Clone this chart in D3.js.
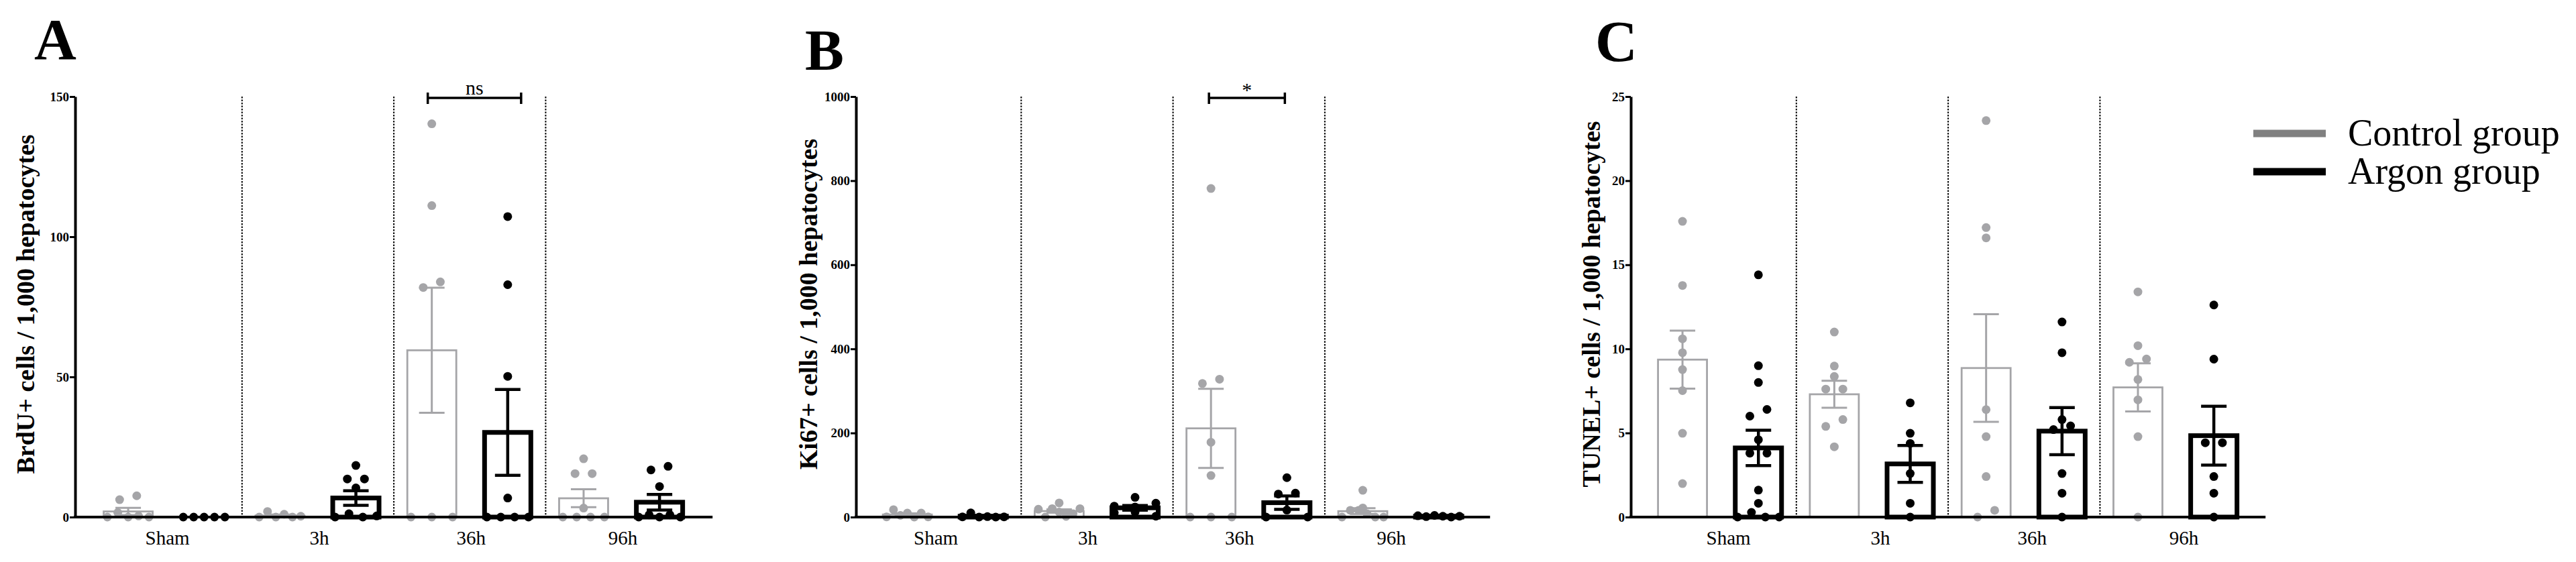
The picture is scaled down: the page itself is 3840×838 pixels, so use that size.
<!DOCTYPE html>
<html>
<head>
<meta charset="utf-8">
<script src="https://cdn.jsdelivr.net/npm/d3@7"></script>
<style>
  html, body { margin: 0; padding: 0; background: #fff; }
  svg { display: block; }
  text { font-family: 'Liberation Serif', 'Times New Roman', serif; }
</style>
</head>
<body>
<svg id="chart" width="3840" height="838"></svg>
<script>
// ---------------- DATA ----------------
const groups = ["Sham", "3h", "36h", "96h"];
const seriesNames = ["Control group", "Argon group"];

// Panel A: BrdU+
const brduTicks = [0, 50, 100, 150];
const brduControlMean = [2.0, 0.55, 59.5, 6.7];
const brduControlSem  = [1.3, 0.35, 22.3, 3.2];
const brduArgonMean   = [0, 6.8, 30.2, 5.3];
const brduArgonSem    = [0, 2.6, 15.3, 2.8];
const brduControlPoints = [
  [0, 1.6, 0, 0.4, 0, 6.2, 7.6],
  [0, 2.0, 0, 1.0, 0, 0.3],
  [0, 0, 0, 81.9, 83.9, 111.1, 140.3],
  [0, 0, 0, 0, 3.2, 15.5, 15.5, 20.8]
];
const brduArgonPoints = [
  [0, 0, 0, 0, 0],
  [0, 1.2, 0, 0.4, 10.4, 13.6, 13.6, 18.4],
  [0, 0, 0, 0, 6.8, 50.2, 82.9, 107.2],
  [0, 0.8, 0, 0.8, 0, 10.9, 16.8, 18.1]
];

// Panel B: Ki67+
const ki67Ticks = [0, 200, 400, 600, 800, 1000];
const ki67ControlMean = [6.0, 14.2, 211, 14];
const ki67ControlSem  = [2.7, 4.0, 94, 7];
const ki67ArgonMean   = [2.0, 22, 34.2, 2.0];
const ki67ArgonSem    = [1.6, 5.5, 16, 0.6];
const ki67ControlPoints = [
  [0.5, 17.6, 4, 9.6, 0, 9.6, 0.5],
  [18.6, 0, 20, 12, 33.6, 1.6, 8, 20],
  [0, 0, 0, 98.8, 178, 317.6, 327.9, 781.3],
  [0, 16, 21.7, 16, 8, 0, 0, 63.6]
];
const ki67ArgonPoints = [
  [0.5, 10, 0, 1, 0, 0.5],
  [47, 26, 10, 24, 33, 12, 2],
  [0, 16.6, 0, 54.8, 57, 93.7],
  [3, 1, 4, 2, 0, 2]
];

// Panel C: TUNEL+
const tunelTicks = [0, 5, 10, 15, 20, 25];
const tunelControlMean = [9.36, 7.3, 8.86, 7.71];
const tunelControlSem  = [1.72, 0.8, 3.2, 1.43];
const tunelArgonMean   = [4.11, 3.16, 5.11, 4.84];
const tunelArgonSem    = [1.05, 1.1, 1.4, 1.75];
const tunelControlPoints = [
  [1.99, 4.98, 7.52, 8.77, 9.77, 10.6, 13.77, 17.58],
  [4.18, 5.39, 5.8, 7.61, 7.61, 8.36, 8.98, 11.0],
  [0, 0.4, 2.41, 4.78, 6.39, 16.6, 17.21, 23.57],
  [0, 4.78, 6.97, 8.18, 9.2, 9.4, 10.19, 13.39]
];
const tunelArgonPoints = [
  [0, 0.28, 0, 0, 0.82, 1.6, 3.8, 3.8, 4.6, 6.0, 6.4, 8.0, 9.0, 14.4],
  [0, 0.82, 2.59, 4.38, 4.98, 6.79],
  [0, 1.42, 2.59, 5.2, 5.42, 5.8, 9.77, 11.6],
  [0, 1.42, 2.41, 4.42, 4.42, 9.39, 12.61]
];

// ---------------- LAYOUT / STYLE ----------------
const svg = d3.select("#chart");
svg.append("rect").attr("width", 3840).attr("height", 838).attr("fill", "#fff");

const GREY = "#a5a5a8";
const BASE_Y = 771, TOP_Y = 144;
const GROUP_W = 226.3;
const R = 6.5;

const panels = [
  { letter: "A", lx: 51, ly: 88, axisX: 112, x0: 134.5, yMax: 150, ticks: brduTicks,
    title: "BrdU+ cells / 1,000 hepatocytes", titleX: 51, labelDx: 2,
    cMean: brduControlMean, cSem: brduControlSem, aMean: brduArgonMean, aSem: brduArgonSem,
    cPts: brduControlPoints, aPts: brduArgonPoints,
    sig: { group: "36h", text: "ns", padL: 6, padR: 20 } },
  { letter: "B", lx: 1200, ly: 104, axisX: 1276, x0: 1296, yMax: 1000, ticks: ki67Ticks,
    title: "Ki67+ cells / 1,000 hepatocytes", titleX: 1218, labelDx: -14,
    cMean: ki67ControlMean, cSem: ki67ControlSem, aMean: ki67ArgonMean, aSem: ki67ArgonSem,
    cPts: ki67ControlPoints, aPts: ki67ArgonPoints,
    sig: { group: "36h", text: "*", padL: 3, padR: -3 } },
  { letter: "C", lx: 2378, ly: 91, axisX: 2431, x0: 2451.5, yMax: 25, ticks: tunelTicks,
    title: "TUNEL+ cells / 1,000 hepatocytes", titleX: 2385, labelDx: 12,
    cMean: tunelControlMean, cSem: tunelControlSem, aMean: tunelArgonMean, aSem: tunelArgonSem,
    cPts: tunelControlPoints, aPts: tunelArgonPoints,
    sig: null }
];

function swarm(values, y, thresh) {
  const items = values.map((v, i) => ({ v, i, y: y(v), dx: 0 }));
  const sorted = items.slice().sort((a, b) => (b.y - a.y) || (a.i - b.i));
  const rows = [];
  let cur = null;
  for (const it of sorted) {
    if (cur && cur.base - it.y <= thresh) cur.items.push(it);
    else { cur = { base: it.y, items: [it] }; rows.push(cur); }
  }
  rows.forEach(r => {
    r.items.sort((a, b) => a.i - b.i);
    const n = r.items.length;
    const sp = n === 1 ? 0 : (n === 2 ? 25.5 : 62 / (n - 1));
    r.items.forEach((it, k) => { it.dx = (k - (n - 1) / 2) * sp; });
  });
  return items;
}

panels.forEach(p => {
  const g = svg.append("g");
  const y = d3.scaleLinear().domain([0, p.yMax]).range([BASE_Y, TOP_Y]);
  const xg = d3.scaleBand().domain(groups).range([p.x0, p.x0 + 4 * GROUP_W]).padding(0);
  const xs = d3.scaleBand().domain(seriesNames).range([0, GROUP_W]).padding(0);
  const axisEnd = p.x0 + 4 * GROUP_W + (p.x0 - p.axisX);

  // panel letter
  g.append("text").attr("x", p.lx).attr("y", p.ly).attr("font-size", 87)
    .attr("font-weight", "bold").attr("fill", "#000").text(p.letter);

  // dotted separators
  g.selectAll("line.sep").data(groups.slice(1)).join("line")
    .attr("x1", d => xg(d)).attr("x2", d => xg(d))
    .attr("y1", TOP_Y).attr("y2", BASE_Y)
    .attr("stroke", "#000").attr("stroke-width", 2).attr("stroke-dasharray", "2.5,2");

  const series = [
    { name: seriesNames[0], mean: p.cMean, sem: p.cSem, pts: p.cPts, color: GREY, bw: 2.8, ew: 3, barW: 73 },
    { name: seriesNames[1], mean: p.aMean, sem: p.aSem, pts: p.aPts, color: "#000", bw: 7, ew: 4.5, barW: 69 }
  ];

  series.forEach(s => {
    const cx = gname => xg(gname) + xs(s.name) + xs.bandwidth() / 2;
    // bars
    g.selectAll(null).data(groups).join("rect")
      .attr("x", d => cx(d) - s.barW / 2)
      .attr("width", s.barW)
      .attr("y", (d, i) => y(s.mean[i]))
      .attr("height", (d, i) => BASE_Y - y(s.mean[i]))
      .attr("fill", "none").attr("stroke", s.color).attr("stroke-width", s.bw);
    // points
    groups.forEach((gname, gi) => {
      const items = swarm(s.pts[gi], y, 13);
      g.selectAll(null).data(items).join("circle")
        .attr("cx", d => cx(gname) + d.dx).attr("cy", d => d.y)
        .attr("r", R).attr("fill", s.color);
    });
    // error bars (mean ± SEM)
    groups.forEach((gname, gi) => {
      const m = s.mean[gi], e = s.sem[gi];
      if (e <= 0) return;
      const x = cx(gname), cap = 19;
      const eg = g.append("g").attr("stroke", s.color).attr("stroke-width", s.ew);
      eg.append("line").attr("x1", x).attr("x2", x).attr("y1", y(m - e)).attr("y2", y(m + e));
      eg.append("line").attr("x1", x - cap).attr("x2", x + cap).attr("y1", y(m + e)).attr("y2", y(m + e));
      eg.append("line").attr("x1", x - cap).attr("x2", x + cap).attr("y1", y(m - e)).attr("y2", y(m - e));
    });
  });

  // y axis
  const yAxis = d3.axisLeft(y).tickValues(p.ticks).tickFormat(d3.format("d"))
    .tickSize(8).tickSizeOuter(0).tickPadding(1);
  const ya = g.append("g").attr("transform", `translate(${p.axisX},0)`).call(yAxis);
  ya.select(".domain").attr("stroke", "#000").attr("stroke-width", 4);
  ya.selectAll(".tick line").attr("stroke", "#000").attr("stroke-width", 3);
  ya.selectAll(".tick text").attr("font-size", 19).attr("font-weight", "bold")
    .attr("font-family", "'Liberation Serif', 'Times New Roman', serif").attr("fill", "#000");

  // x axis line
  g.append("line").attr("x1", p.axisX - 2).attr("x2", axisEnd)
    .attr("y1", BASE_Y).attr("y2", BASE_Y).attr("stroke", "#000").attr("stroke-width", 4);

  // category labels
  g.selectAll(null).data(groups).join("text")
    .attr("x", d => xg(d) + GROUP_W / 2 + p.labelDx).attr("y", 812)
    .attr("text-anchor", "middle").attr("font-size", 29).attr("fill", "#000").text(d => d);

  // y title
  g.append("text")
    .attr("transform", `translate(${p.titleX},${(TOP_Y + BASE_Y) / 2 - 4}) rotate(-90)`)
    .attr("text-anchor", "middle").attr("font-size", 38).attr("font-weight", "bold")
    .attr("fill", "#000").text(p.title);

  // significance bracket
  if (p.sig) {
    const xc = xg(p.sig.group) + xs(seriesNames[0]) + xs.bandwidth() / 2 - p.sig.padL;
    const xa = xg(p.sig.group) + xs(seriesNames[1]) + xs.bandwidth() / 2 + p.sig.padR;
    const by = 146;
    const bg = g.append("g").attr("stroke", "#000").attr("stroke-width", 3.5);
    bg.append("line").attr("x1", xc).attr("x2", xa).attr("y1", by).attr("y2", by);
    bg.append("line").attr("x1", xc).attr("x2", xc).attr("y1", by - 8).attr("y2", by + 9);
    bg.append("line").attr("x1", xa).attr("x2", xa).attr("y1", by - 8).attr("y2", by + 9);
    g.append("text").attr("x", (xc + xa) / 2).attr("y", p.sig.text === "*" ? 144 : 141)
      .attr("text-anchor", "middle").attr("font-size", 30).attr("fill", "#000").text(p.sig.text);
  }
});

// legend
const legendColors = ["#808080", "#000"];
const lg = svg.append("g");
lg.selectAll(null).data(seriesNames).join("line")
  .attr("x1", 3359).attr("x2", 3467)
  .attr("y1", (d, i) => 199 + i * 57).attr("y2", (d, i) => 199 + i * 57)
  .attr("stroke", (d, i) => legendColors[i]).attr("stroke-width", 11);
lg.selectAll(null).data(seriesNames).join("text")
  .attr("x", 3500).attr("y", (d, i) => 217 + i * 57)
  .attr("font-size", 56).attr("fill", "#000").text(d => d);
</script>
</body>
</html>
